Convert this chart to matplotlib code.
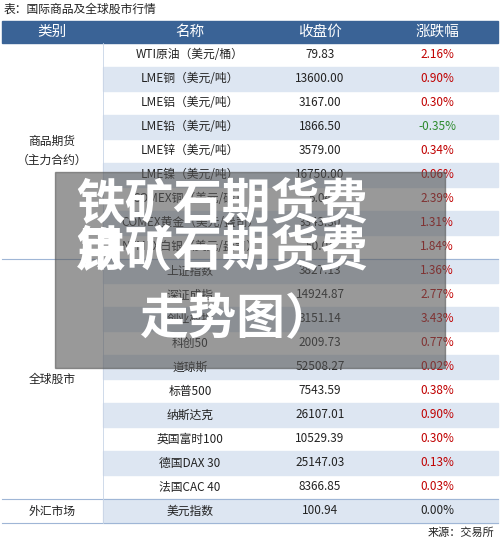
import matplotlib.pyplot as plt
from matplotlib.patches import Rectangle

plt.rcParams['font.family'] = ['Noto Sans CJK SC', 'DejaVu Sans']

headers = ['类别', '名称', '收盘价', '涨跌幅']
names = ['WTI原油（美元/桶）', 'LME铜（美元/吨）', 'LME铝（美元/吨）', 'LME铅（美元/吨）',
         'LME锌（美元/吨）', 'LME镍（美元/吨）', 'COMEX铜（美元/磅）', 'COMEX黄金（美元/盎司）',
         'NYMEX白银（美元/盎司）', '上证指数', '深证成指', '创业板指', '科创50', '道琼斯',
         '标普500', '纳斯达克', '英国富时100', '德国DAX 30', '法国CAC 40', '美元指数']
prices = ['79.83', '13600.00', '3167.00', '1866.50', '3579.00', '16750.00', '5.04', '3343.30',
          '50.04', '3827.13', '14924.87', '3151.14', '2009.73', '52508.27', '7543.59',
          '26107.01', '10529.39', '25147.03', '8366.85', '100.94']
changes = [2.16, 0.90, 0.30, -0.35, 0.34, 0.06, 2.39, 1.31, 1.84, 1.36, 2.77, 3.43, 0.77,
           0.02, 0.38, 0.90, 0.30, 0.13, 0.03, 0.00]
groups = [('商品期货\n（主力合约）', 0, 9), ('全球股市', 9, 19), ('外汇市场', 19, 20)]

fig = plt.figure(figsize=(5, 5.42), dpi=100)
ax = fig.add_axes([0, 0, 1, 1])
ax.set_xlim(0, 500)
ax.set_ylim(542, 0)
ax.axis('off')

top, rh = 43, 24
cols = [2, 103, 290, 372, 498]
centers = [52, 190, 320, 437]

ax.text(4, 9, '表：国际商品及全球股市行情', fontsize=8.5, va='center', color='#222')
ax.add_patch(Rectangle((2, 21), 496, 22, color='#3a6396'))
for c, h in zip(centers, headers):
    ax.text(c, 32, h, color='white', fontsize=10.5, ha='center', va='center')

for i in range(len(names)):
    y = top + i * rh
    if i % 2 == 1:
        ax.add_patch(Rectangle((cols[1], y), cols[4] - cols[1], rh, color='#dde6f2'))
    ax.text(centers[1], y + rh / 2, names[i], fontsize=8.5, ha='center', va='center', color='#222')
    ax.text(centers[2], y + rh / 2, prices[i], fontsize=8.5, ha='center', va='center', color='#222')
    col = '#2e8b2e' if changes[i] < 0 else ('#c00000' if changes[i] > 0 else '#222')
    ax.text(centers[3], y + rh / 2, f'{changes[i]:.2f}%', fontsize=8.5, ha='center', va='center', color=col)

for label, a, b in groups:
    ax.text(centers[0], top + (a + b) / 2 * rh, label, fontsize=8.5, ha='center', va='center',
            color='#222', linespacing=1.6)
    ax.plot([2, 498], [top + b * rh, top + b * rh], color='#9fb6d6', lw=0.8)
ax.plot([cols[1], cols[1]], [top, top + 20 * rh], color='#c8d4e6', lw=0.6)

ax.text(494, 533, '来源：交易所', fontsize=8, ha='right', va='center', color='#222')

# overlay
ax.add_patch(Rectangle((55, 172), 390, 196, color='#555555', alpha=0.6, zorder=5))
kw = dict(color='white', fontsize=35, fontweight='bold', va='center', zorder=6)
ax.text(76, 205, '铁矿石期货费', **kw)
ax.text(76, 252, '用（', **kw)
ax.text(76, 252, '铁矿石期货费', **kw)
ax.text(140, 320, '走势图）', **kw)

fig.savefig('out.png', dpi=100)
